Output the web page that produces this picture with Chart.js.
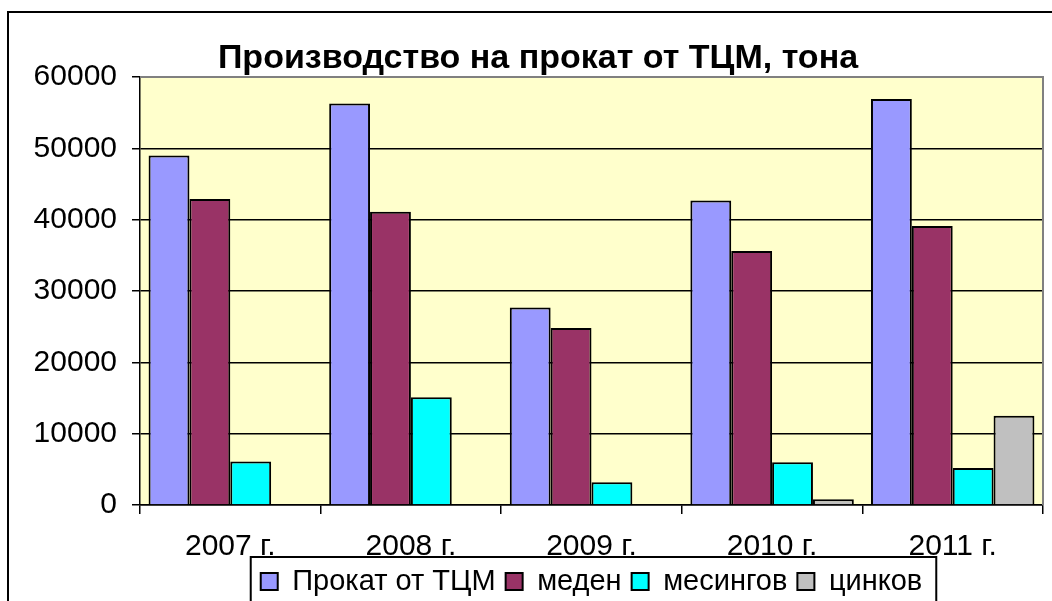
<!DOCTYPE html>
<html>
<head>
<meta charset="utf-8">
<script src="https://cdn.jsdelivr.net/npm/chart.js@4.4.0/dist/chart.umd.min.js"></script>
<style>
    html, body { margin: 0; padding: 0; background: #fff; overflow: hidden; }
    #frame {
        position: absolute; left: 7px; top: 11px; width: 1200px; height: 700px;
        border-left: 2px solid #000; border-top: 2px solid #000;
    }
    #wrap { position: absolute; left: 0; top: 0; width: 1052px; height: 601px; }
</style>
</head>
<body>
<div id="frame"></div>
<div id="wrap"><canvas id="tcmChart"></canvas></div>
<script>
// Chart data
const years = ['2007 г.', '2008 г.', '2009 г.', '2010 г.', '2011 г.'];
const prokatTotal = [49000, 56300, 27700, 42700, 56900];
const meden = [42900, 41100, 24800, 35600, 39100];
const mesingov = [6100, 15100, 3200, 6000, 5200];
const cinkov = [null, null, null, 800, 12500];
const yTicks = [0, 10000, 20000, 30000, 40000, 50000, 60000];

const FONT = '"Liberation Sans", Arial, sans-serif';

// Plot area background + grey frame, and box round the legend
const plotFrame = {
    id: 'plotFrame',
    beforeDraw: function(chart) {
        const a = chart.chartArea;
        const ctx = chart.ctx;
        ctx.save();
        ctx.fillStyle = '#FFFFCC';
        ctx.fillRect(a.left, a.top, a.right - a.left, a.bottom - a.top);
        ctx.restore();
    },
    afterDraw: function(chart) {
        const a = chart.chartArea;
        const ctx = chart.ctx;
        ctx.save();
        ctx.strokeStyle = '#808080';
        ctx.lineWidth = 2;
        ctx.beginPath();
        ctx.moveTo(a.left, a.top);
        ctx.lineTo(a.right, a.top);
        ctx.lineTo(a.right, a.bottom);
        ctx.stroke();

        const boxes = chart.legend.legendHitBoxes;
        if (boxes && boxes.length) {
            let l = Infinity, r = -Infinity, t = Infinity;
            boxes.forEach(function(b) {
                l = Math.min(l, b.left);
                r = Math.max(r, b.left + b.width);
                t = Math.min(t, b.top);
            });
            ctx.strokeStyle = '#000';
            ctx.lineWidth = 2;
            ctx.beginPath();
            ctx.rect(l - 10, t - 10, (r - l) + 24, chart.height);
            ctx.stroke();
        }
        ctx.restore();
    }
};

function makeSet(label, data, color) {
    return {
        label: label,
        data: data,
        backgroundColor: color,
        borderColor: '#000',
        borderWidth: 2,
        borderSkipped: 'bottom',
        categoryPercentage: 0.905,
        barPercentage: 1.0
    };
}

document.addEventListener('DOMContentLoaded', function() {
    const ctx = document.getElementById('tcmChart').getContext('2d');
    new Chart(ctx, {
        type: 'bar',
        data: {
            labels: years,
            datasets: [
                makeSet('Прокат от ТЦМ', prokatTotal, '#9999FF'),
                makeSet('меден', meden, '#993366'),
                makeSet('месингов', mesingov, '#00FFFF'),
                makeSet('цинков', cinkov, '#C0C0C0')
            ]
        },
        options: {
            responsive: true,
            maintainAspectRatio: false,
            animation: false,
            layout: {
                padding: { left: 33, right: 9, top: 42, bottom: -5 }
            },
            plugins: {
                title: {
                    display: true,
                    text: 'Производство на прокат от ТЦМ, тона',
                    color: '#000',
                    font: { family: FONT, size: 34, weight: 'bold', lineHeight: 1.0 },
                    padding: { top: 0, bottom: 1 }
                },
                legend: {
                    position: 'bottom',
                    fullSize: false,
                    labels: {
                        color: '#000',
                        font: { family: FONT, size: 29 },
                        boxWidth: 17,
                        boxHeight: 17,
                        padding: 10
                    }
                },
                tooltip: { enabled: false }
            },
            scales: {
                x: {
                    afterFit: function(scale) {
                        scale.height = 52;
                    },
                    grid: {
                        display: true,
                        offset: true,
                        drawOnChartArea: false,
                        drawTicks: true,
                        tickLength: 9,
                        color: '#000',
                        lineWidth: 1.5
                    },
                    border: { display: true, color: '#000', width: 1.5 },
                    ticks: {
                        color: '#000',
                        font: { family: FONT, size: 30, lineHeight: 1 },
                        padding: 18,
                        maxRotation: 0,
                        autoSkip: false
                    }
                },
                y: {
                    min: 0,
                    max: 60000,
                    afterBuildTicks: function(scale) {
                        scale.ticks = yTicks.map(function(v) { return { value: v }; });
                    },
                    afterFit: function(scale) {
                        scale.width = 107;
                    },
                    grid: {
                        color: '#000',
                        lineWidth: 1.5,
                        tickLength: 8
                    },
                    border: { display: true, color: '#000', width: 1.5 },
                    ticks: {
                        color: '#000',
                        font: { family: FONT, size: 30 },
                        padding: 15,
                        callback: function(v) { return String(v); }
                    }
                }
            }
        },
        plugins: [plotFrame]
    });
});
</script>
</body>
</html>
